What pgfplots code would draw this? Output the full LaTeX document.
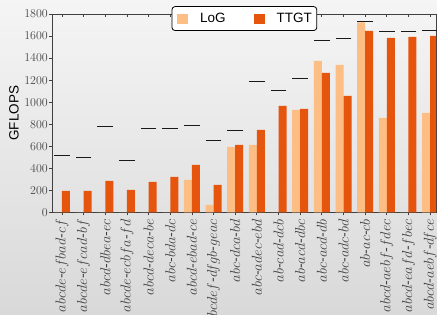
\documentclass[border=0pt]{standalone}
\usepackage{pgfplots}
\pgfplotsset{compat=1.18}
\usepackage{fontspec}
\setmainfont{Liberation Sans}
\definecolor{logc}{RGB}{253,190,133}
\definecolor{ttgtc}{RGB}{230,85,13}
\pgfplotstableread{
x LoG TTGT Best
0 0 197 516
1 0 196 495
2 0 287 776
3 0 205 468
4 0 278 758
5 0 323 758
6 296 432 785
7 69 251 652
8 595 613 746
9 613 749 1187
10 0 966 1105
11 930 939 1217
12 1374 1265 1564
13 1338 1057 1580
14 1725 1646 1731
15 858 1583 1640
16 0 1592 1640
17 903 1601 1646
}\datatable
\begin{document}
\begin{tikzpicture}
\path[use as bounding box] (0,0) rectangle (437pt,315pt);
\shade[top color=black!4, bottom color=black!15] (0,0) rectangle (437pt,315pt);
\clip (0,0) rectangle (437pt,315pt);
\begin{axis}[
  at={(52pt,102.5pt)}, anchor=south west,
  scale only axis, width=384pt, height=198.5pt,
  xmin=-0.46, xmax=17.27, ymin=0, ymax=1800,
  xtick={0,...,17}, ytick={0,200,...,1800},
  xtick pos=right, ytick pos=right,
  tick align=inside, major tick length=3pt,
  xticklabels={}, yticklabels={},
  axis line style={draw=none},
  tick style={black!75, line width=0.8pt},
]
\end{axis}
\begin{axis}[
  at={(52pt,102.5pt)}, anchor=south west,
  scale only axis, width=384pt, height=198.5pt,
  xmin=-0.46, xmax=17.27, ymin=0, ymax=1800,
  xtick={0,...,17},
  xticklabels={
    {$abcde$-$efbad$-$cf$},
    {$abcde$-$efcad$-$bf$},
    {$abcd$-$dbea$-$ec$},
    {$abcde$-$ecbfa$-$fd$},
    {$abcd$-$deca$-$be$},
    {$abc$-$bda$-$dc$},
    {$abcd$-$ebad$-$ce$},
    {$abcdef$-$dfgb$-$geac$},
    {$abc$-$dca$-$bd$},
    {$abc$-$adec$-$ebd$},
    {$ab$-$cad$-$dcb$},
    {$ab$-$acd$-$dbc$},
    {$abc$-$acd$-$db$},
    {$abc$-$adc$-$bd$},
    {$ab$-$ac$-$cb$},
    {$abcd$-$aebf$-$fdec$},
    {$abcd$-$eafd$-$fbec$},
    {$abcd$-$aebf$-$dfce$}},
  ytick={0,200,...,1800},
  xtick pos=left, ytick pos=left,
  tick align=outside, major tick length=3pt,
  /pgf/number format/set thousands separator={},
  axis line style={black!75, line width=0.9pt},
  tick style={black!75, line width=0.8pt},
  yticklabel style={font=\fontsize{11.5}{12}\selectfont, text=black!72, inner xsep=1pt},
  xticklabel style={font=\fontsize{14}{15}\selectfont, text=black!75, rotate=90, anchor=east, inner xsep=3.5pt},
  ylabel={GFLOPS},
  ylabel style={at={(axis description cs:-0.099,0.5)}, anchor=center, font=\fontsize{13.5}{14}\selectfont},
  legend columns=2,
  legend style={at={(0.501,0.977)}, anchor=center, draw=black, line width=0.8pt,
    rounded corners=3pt, fill=white, font=\fontsize{13.5}{14}\selectfont,
    inner xsep=5pt, inner ysep=4.5pt,
    nodes={inner xsep=0pt},
    /tikz/every even column/.append style={column sep=28pt},
    /tikz/every odd column/.append style={column sep=12pt}},
]
\addplot[ybar, bar width=8pt, bar shift=-4pt, fill=logc, draw=none,
  legend image code/.code={\fill[logc, sharp corners] (0pt,-5pt) rectangle (11pt,5pt);}]
  table[x=x, y=LoG] {\datatable};
\addlegendentry{LoG}
\addplot[ybar, bar width=8pt, bar shift=4pt, fill=ttgtc, draw=none,
  legend image code/.code={\fill[ttgtc, sharp corners] (0pt,-5pt) rectangle (11pt,5pt);}]
  table[x=x, y=TTGT] {\datatable};
\addlegendentry{TTGT}
\addplot[only marks, mark=-, mark size=7.8pt, mark options={line width=1pt, black!90}, forget plot]
  table[x=x, y=Best] {\datatable};
\end{axis}
\end{tikzpicture}
\end{document}
